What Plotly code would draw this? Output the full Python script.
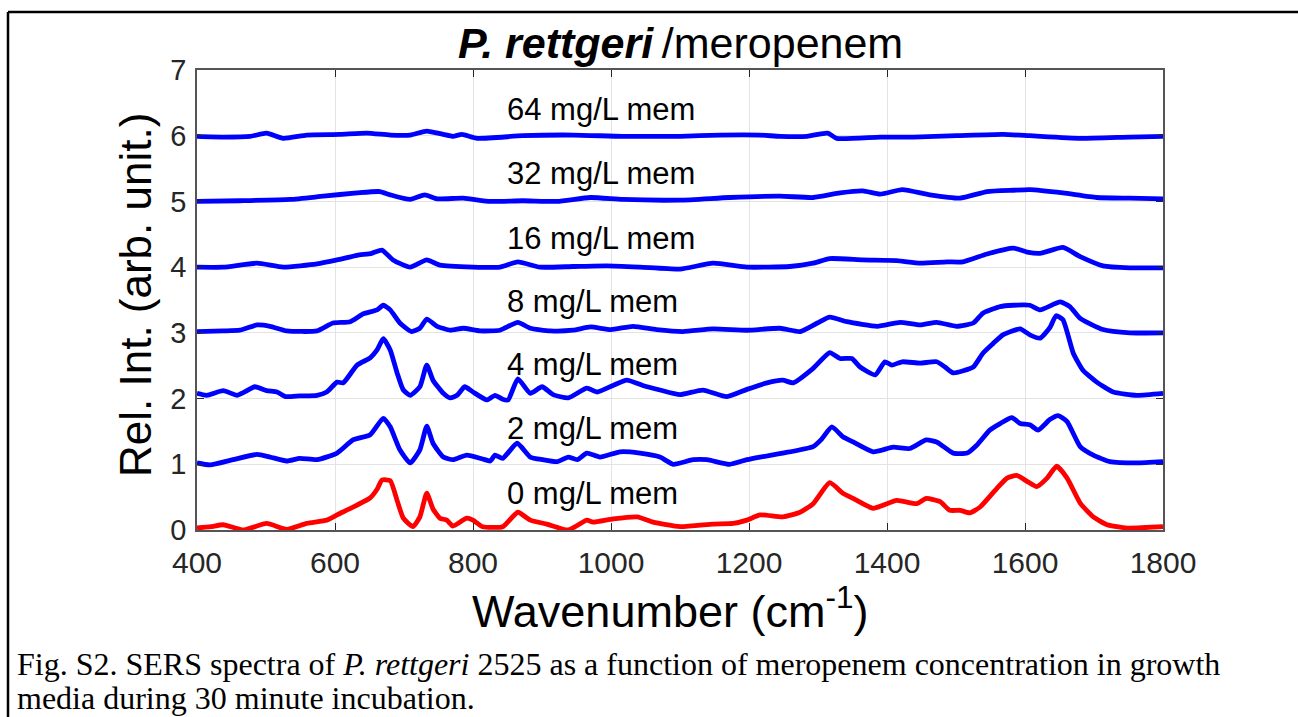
import plotly.graph_objects as go

# Stacked SERS spectra (offset by 1 per concentration)
wn_0 = [400, 420, 438, 467, 501, 530, 559, 588, 603, 632, 651, 661, 668, 680, 690, 699, 713, 723, 733, 742,
        752, 762, 771, 791, 800, 814, 843, 865, 883, 907, 938, 965, 974, 1003, 1038, 1061, 1100, 1148, 1177,
        1197, 1216, 1249, 1274, 1293, 1317, 1336, 1351, 1380, 1414, 1443, 1457, 1477, 1491, 1506, 1520, 1535,
        1559, 1574, 1588, 1603, 1617, 1632, 1646, 1661, 1680, 1699, 1719, 1748, 1800]
int_0 = [0.03, 0.05, 0.08, 0.0, 0.1, 0.01, 0.1, 0.15, 0.23, 0.38, 0.49, 0.62, 0.76, 0.75, 0.45, 0.18, 0.05,
         0.2, 0.56, 0.32, 0.18, 0.15, 0.06, 0.18, 0.15, 0.05, 0.05, 0.27, 0.15, 0.09, 0.0, 0.15, 0.12, 0.17,
         0.2, 0.12, 0.05, 0.09, 0.1, 0.15, 0.23, 0.2, 0.27, 0.4, 0.72, 0.56, 0.48, 0.33, 0.45, 0.4, 0.48, 0.43,
         0.3, 0.3, 0.26, 0.35, 0.63, 0.79, 0.83, 0.74, 0.66, 0.79, 0.97, 0.79, 0.41, 0.2, 0.08, 0.03, 0.05]

wn_2 = [400, 419, 452, 487, 506, 530, 549, 574, 603, 626, 651, 670, 680, 694, 709, 723, 733, 742, 757, 771,
        791, 814, 825, 832, 843, 864, 883, 901, 922, 938, 951, 965, 984, 1013, 1042, 1071, 1090, 1119, 1139,
        1172, 1197, 1216, 1249, 1293, 1305, 1320, 1336, 1351, 1380, 1409, 1433, 1457, 1472, 1496, 1516, 1530,
        1549, 1564, 1581, 1593, 1607, 1619, 1636, 1648, 1661, 1680, 1699, 1723, 1762, 1800]
int_2 = [1.02, 0.99, 1.07, 1.15, 1.11, 1.05, 1.09, 1.07, 1.17, 1.37, 1.45, 1.7, 1.57, 1.22, 1.02, 1.22, 1.58,
         1.32, 1.11, 1.07, 1.14, 1.08, 1.05, 1.14, 1.09, 1.32, 1.11, 1.07, 1.04, 1.11, 1.07, 1.17, 1.11, 1.19,
         1.17, 1.11, 1.0, 1.07, 1.07, 1.0, 1.07, 1.11, 1.17, 1.27, 1.38, 1.57, 1.42, 1.34, 1.19, 1.26, 1.24,
         1.37, 1.34, 1.17, 1.17, 1.29, 1.52, 1.62, 1.71, 1.62, 1.6, 1.52, 1.68, 1.74, 1.65, 1.27, 1.14, 1.04,
         1.02, 1.04]

wn_4 = [400, 414, 438, 458, 467, 484, 501, 516, 528, 549, 574, 588, 603, 612, 632, 651, 661, 670, 680, 690,
        699, 709, 723, 733, 742, 757, 767, 777, 788, 800, 820, 832, 843, 851, 865, 883, 900, 916, 938, 965,
        980, 1003, 1023, 1046, 1071, 1100, 1133, 1168, 1197, 1226, 1249, 1264, 1293, 1317, 1332, 1349, 1361,
        1383, 1397, 1407, 1422, 1448, 1472, 1484, 1496, 1525, 1539, 1554, 1568, 1593, 1607, 1622, 1636, 1645,
        1655, 1670, 1684, 1704, 1728, 1762, 1800]
int_4 = [2.08, 2.05, 2.12, 2.05, 2.09, 2.18, 2.12, 2.1, 2.03, 2.04, 2.05, 2.1, 2.25, 2.24, 2.51, 2.62, 2.74,
         2.91, 2.74, 2.39, 2.13, 2.05, 2.18, 2.51, 2.28, 2.08, 2.01, 2.05, 2.18, 2.1, 1.98, 2.05, 1.99, 1.98,
         2.3, 2.08, 2.18, 2.06, 2.01, 2.16, 2.1, 2.2, 2.28, 2.2, 2.13, 2.06, 2.13, 2.03, 2.14, 2.24, 2.28, 2.24,
         2.46, 2.7, 2.61, 2.61, 2.48, 2.36, 2.56, 2.51, 2.56, 2.54, 2.56, 2.48, 2.39, 2.48, 2.69, 2.84, 2.97,
         3.06, 2.97, 2.92, 3.08, 3.26, 3.2, 2.69, 2.43, 2.25, 2.1, 2.05, 2.08]

wn_8 = [400, 438, 462, 487, 506, 530, 574, 597, 622, 641, 661, 670, 680, 694, 711, 723, 733, 748, 767, 786,
        810, 839, 865, 883, 912, 945, 970, 1000, 1032, 1066, 1104, 1148, 1197, 1245, 1274, 1299, 1317, 1342,
        1386, 1419, 1448, 1472, 1501, 1525, 1539, 1564, 1583, 1607, 1622, 1651, 1665, 1680, 1713, 1752, 1800]
int_8 = [3.02, 3.03, 3.04, 3.12, 3.1, 3.03, 3.03, 3.15, 3.17, 3.29, 3.35, 3.42, 3.35, 3.15, 3.02, 3.07, 3.21,
         3.1, 3.04, 3.07, 3.03, 3.04, 3.16, 3.07, 3.03, 3.04, 3.09, 3.05, 3.1, 3.05, 3.02, 3.06, 3.04, 3.07,
         3.02, 3.15, 3.24, 3.17, 3.1, 3.16, 3.12, 3.16, 3.1, 3.15, 3.3, 3.4, 3.42, 3.42, 3.35, 3.47, 3.4, 3.22,
         3.05, 3.0, 3.0]

wn_16 = [400, 438, 487, 525, 574, 603, 632, 653, 668, 684, 709, 733, 752, 800, 839, 865, 897, 945, 994, 1042,
         1100, 1148, 1197, 1259, 1293, 1317, 1365, 1414, 1448, 1487, 1510, 1545, 1583, 1603, 1622, 1655, 1680,
         1713, 1752, 1800]
int_16 = [4.0, 4.0, 4.06, 4.0, 4.05, 4.11, 4.18, 4.21, 4.26, 4.11, 4.0, 4.11, 4.03, 4.0, 4.0, 4.08, 4.0, 4.01,
          4.02, 4.0, 3.97, 4.06, 4.0, 4.01, 4.06, 4.13, 4.11, 4.1, 4.06, 4.08, 4.08, 4.2, 4.29, 4.23, 4.21, 4.3,
          4.16, 4.02, 3.99, 3.99]

wn_32 = [400, 462, 535, 583, 632, 665, 680, 709, 730, 748, 786, 825, 872, 922, 970, 1017, 1100, 1172, 1245,
         1293, 1332, 1365, 1390, 1422, 1462, 1506, 1545, 1583, 1607, 1655, 1704, 1752, 1800]
int_32 = [5.0, 5.01, 5.03, 5.08, 5.13, 5.15, 5.1, 5.03, 5.1, 5.04, 5.05, 5.0, 5.01, 5.0, 5.06, 5.03, 5.02,
          5.06, 5.08, 5.06, 5.13, 5.16, 5.11, 5.18, 5.1, 5.05, 5.15, 5.17, 5.18, 5.13, 5.06, 5.05, 5.04]

wn_64 = [400, 438, 477, 501, 525, 559, 607, 646, 680, 709, 733, 757, 771, 784, 806, 872, 945, 1017, 1100, 1158,
         1216, 1245, 1284, 1314, 1327, 1390, 1438, 1501, 1568, 1607, 1680, 1752, 1800]
int_64 = [5.99, 5.98, 5.99, 6.04, 5.96, 6.01, 6.02, 6.04, 6.01, 6.01, 6.07, 6.02, 5.99, 6.02, 5.96, 6.0, 6.01,
          5.99, 5.99, 6.01, 6.01, 5.99, 5.99, 6.04, 5.96, 5.98, 5.98, 6.0, 6.02, 6.0, 5.96, 5.98, 5.99]

labels = ["0 mg/L mem", "2 mg/L mem", "4 mg/L mem", "8 mg/L mem", "16 mg/L mem", "32 mg/L mem", "64 mg/L mem"]
label_y = [0.55, 1.55, 2.52, 3.48, 4.43, 5.43, 6.4]
label_x = 846

x_ticks = [400, 600, 800, 1000, 1200, 1400, 1600, 1800]
y_ticks = [0, 1, 2, 3, 4, 5, 6, 7]

series = [(wn_64, int_64), (wn_32, int_32), (wn_16, int_16), (wn_8, int_8),
          (wn_4, int_4), (wn_2, int_2), (wn_0, int_0)]
colors = ["#0000ff"] * 6 + ["#ff0000"]

fig = go.Figure()
for (wx, wy), c in zip(series, colors):
    fig.add_trace(go.Scatter(x=wx, y=wy, mode="lines",
                             line=dict(color=c, width=4.8, shape="spline", smoothing=0.5),
                             showlegend=False, hoverinfo="skip"))

# Plot area occupies px 197..1163 horizontally, 70..530 vertically
L, R, T, B = 197, 1163, 70, 530
W, H = R - L, B - T


def px(xp):
    return (xp - L) / W


def py(yp):
    return (B - yp) / H


annotations = []
for t, yv in zip(labels, label_y):
    annotations.append(dict(x=label_x, y=yv, xref="x", yref="y", text=t, showarrow=False,
                            xanchor="left", yanchor="middle",
                            font=dict(family="Liberation Sans, Arial", size=31, color="#000000")))

annotations += [
    dict(x=0.5, y=py(43), xref="paper", yref="paper", showarrow=False,
         text="<b><i>P. rettgeri</i></b>&#8201;/meropenem", xanchor="center", yanchor="middle",
         font=dict(family="Liberation Sans, Arial", size=43, color="#000000")),
    dict(x=px(135), y=py(295), xref="paper", yref="paper", showarrow=False, textangle=-90,
         text="Rel. Int. (arb. unit.)", xanchor="center", yanchor="middle",
         font=dict(family="Liberation Sans, Arial", size=44, color="#000000")),
    dict(x=px(670), y=py(608), xref="paper", yref="paper", showarrow=False,
         text="Wavenumber (cm<sup>-1</sup>)", xanchor="center", yanchor="middle",
         font=dict(family="Liberation Sans, Arial", size=45, color="#000000")),
    dict(x=px(15), y=py(664), xref="paper", yref="paper", showarrow=False, xanchor="left", yanchor="middle",
         text="Fig. S2. SERS spectra of <i>P. rettgeri</i> 2525 as a function of meropenem concentration in growth",
         font=dict(family="Liberation Serif, Times New Roman", size=32, color="#000000")),
    dict(x=px(15), y=py(698), xref="paper", yref="paper", showarrow=False, xanchor="left", yanchor="middle",
         text="media during 30 minute incubation.",
         font=dict(family="Liberation Serif, Times New Roman", size=32, color="#000000")),
]

# Figure frame (top and left edges)
shapes = [
    dict(type="line", xref="paper", yref="paper", x0=px(8), x1=px(1310), y0=py(12), y1=py(12),
         line=dict(color="#000000", width=2.5)),
    dict(type="line", xref="paper", yref="paper", x0=px(8), x1=px(8), y0=py(12), y1=py(730),
         line=dict(color="#000000", width=2.5)),
]

axis_common = dict(showgrid=True, gridcolor="#e3e3e3", gridwidth=1, zeroline=False,
                   showline=True, linecolor="#555555", linewidth=1.5, mirror="ticks",
                   ticks="inside", ticklen=7, tickcolor="#262626", tickwidth=1)

fig.update_layout(
    width=1298, height=717,
    margin=dict(l=L, r=1298 - R, t=T, b=717 - B, pad=0),
    paper_bgcolor="#ffffff", plot_bgcolor="#ffffff",
    xaxis=dict(range=[400, 1800], tickvals=x_ticks, ticklabelstandoff=5,
               tickfont=dict(family="Liberation Sans, Arial", size=30, color="#262626"), **axis_common),
    yaxis=dict(range=[0, 7], tickvals=y_ticks, ticklabelstandoff=3,
               tickfont=dict(family="Liberation Sans, Arial", size=29, color="#262626"), **axis_common),
    annotations=annotations, shapes=shapes,
)

fig.write_html("out.html")
